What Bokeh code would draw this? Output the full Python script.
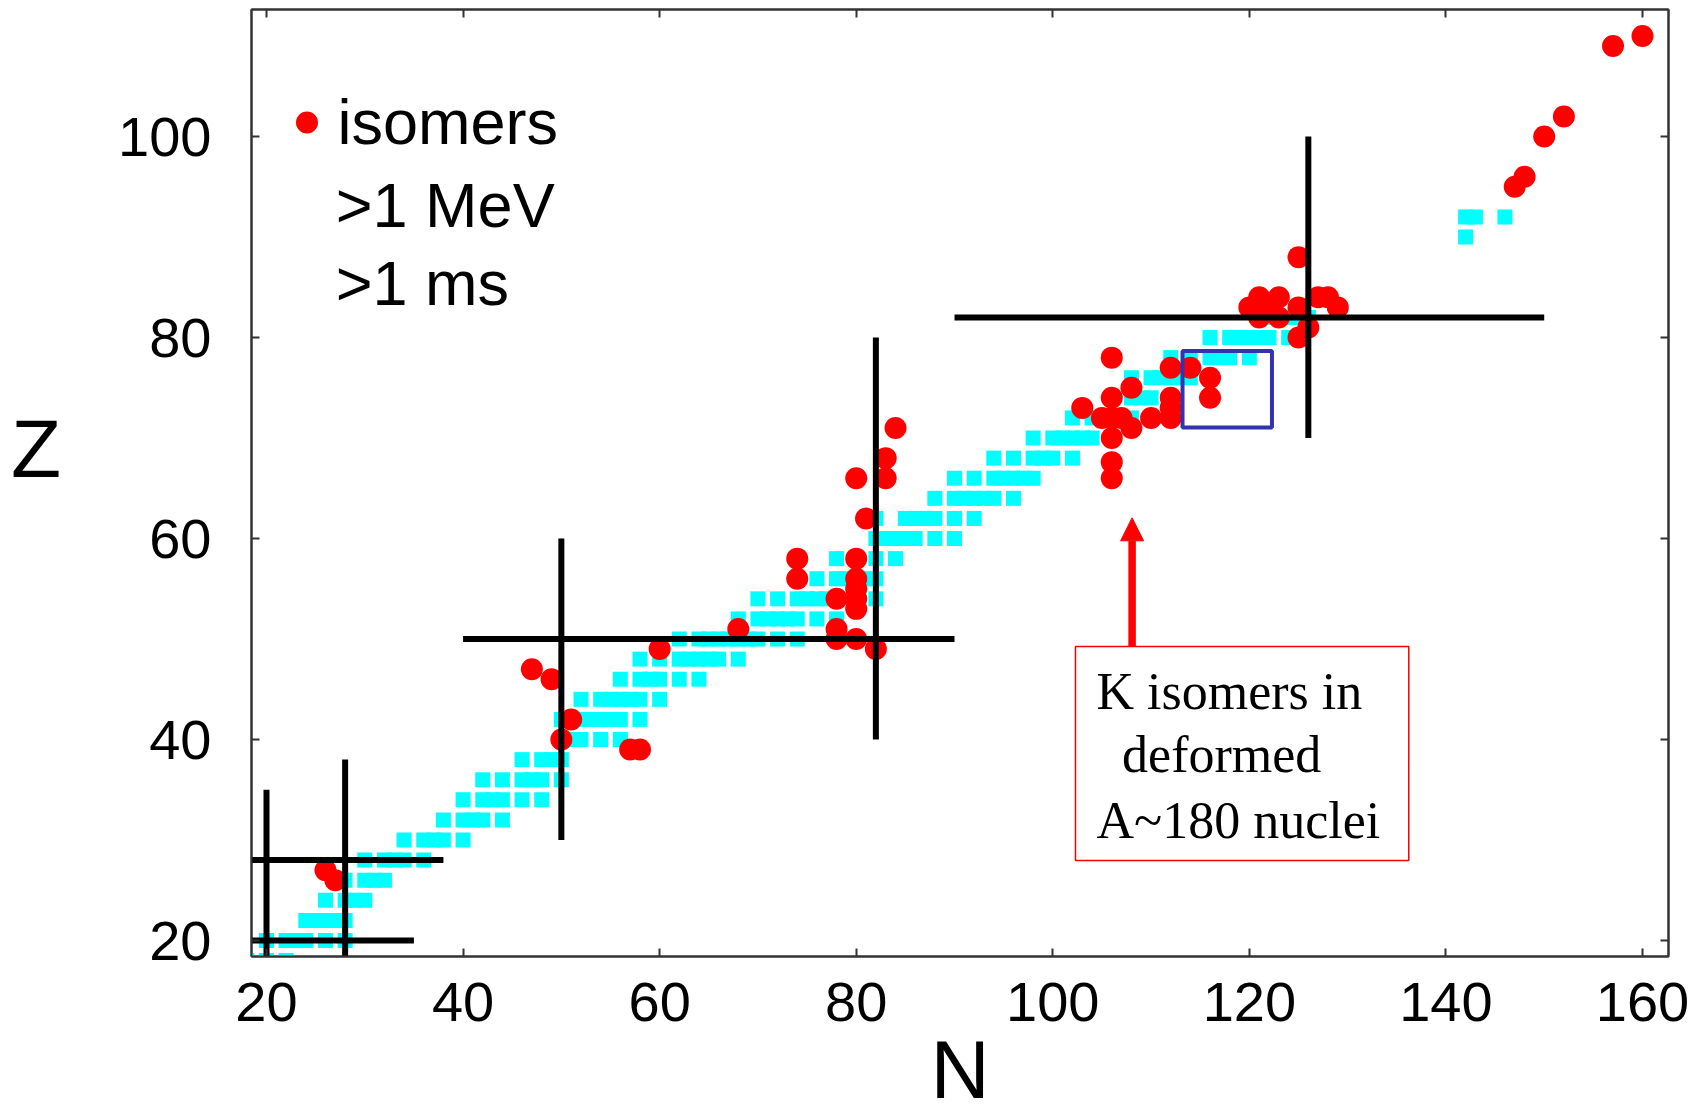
from bokeh.plotting import figure
from bokeh.models import (Range1d, FixedTicker, LinearAxis, Label, Arrow, NormalHead,
                          BoxAnnotation, Legend, LegendItem)
from bokeh.embed import file_html
from bokeh.resources import INLINE

# ---------------- data ----------------
# stable (primordial) even-Z nuclides: proton number and the neutron numbers of each row
even_Z = [18, 20, 22, 24, 26, 28, 30, 32, 34, 36, 38, 40, 42, 44, 46, 48, 50, 52, 54,
          56, 58, 60, 62, 64, 66, 68, 70, 72, 74, 76, 78, 80, 82, 90, 92]
stable_N = [
    [18, 20, 22],
    [20, 22, 23, 24, 26, 28],
    [24, 25, 26, 27, 28],
    [26, 28, 29, 30],
    [28, 30, 31, 32],
    [30, 32, 33, 34, 36],
    [34, 36, 37, 38, 40],
    [38, 40, 41, 42, 44],
    [40, 42, 43, 44, 46, 48],
    [42, 44, 46, 47, 48, 50],
    [46, 48, 49, 50],
    [50, 51, 52, 54, 56],
    [50, 52, 53, 54, 55, 56, 58],
    [52, 54, 55, 56, 57, 58, 60],
    [56, 58, 59, 60, 62, 64],
    [58, 60, 62, 63, 64, 65, 66, 68],
    [62, 64, 65, 66, 67, 68, 69, 70, 72, 74],
    [68, 70, 71, 72, 73, 74, 76, 78],
    [70, 72, 74, 75, 76, 77, 78, 80, 82],
    [74, 76, 78, 79, 80, 81, 82],
    [78, 80, 82, 84],
    [82, 83, 84, 85, 86, 88, 90],
    [82, 85, 86, 87, 88, 90, 92],
    [88, 90, 91, 92, 93, 94, 96],
    [90, 92, 94, 95, 96, 97, 98],
    [94, 96, 98, 99, 100, 102],
    [98, 100, 101, 102, 103, 104, 106],
    [102, 104, 105, 106, 107, 108],
    [106, 108, 109, 110, 112],
    [108, 110, 111, 112, 113, 114, 116],
    [112, 114, 116, 117, 118, 120],
    [116, 118, 119, 120, 121, 122, 124],
    [122, 124, 125, 126],
    [142],
    [142, 143, 146],
]

# isomers > 1 MeV, > 1 ms
iso_N = [26, 27, 47, 49, 51, 50, 57, 58, 60, 68,
         74, 74, 78, 78, 78, 80, 80, 80, 80, 80, 80, 82, 81, 80, 83, 83, 84,
         103, 105, 106, 107, 108, 110, 112, 112, 112, 106, 108, 106, 112, 114, 116, 116, 106, 106, 106,
         120, 121, 121, 122, 123, 123, 125, 126, 125, 127, 128, 129, 125,
         147, 148, 150, 152, 157, 160]
iso_Z = [27, 26, 47, 46, 42, 40, 39, 39, 49, 51,
         58, 56, 54, 51, 50, 58, 56, 55, 54, 53, 50, 49, 62, 66, 66, 68, 71,
         73, 72, 72, 72, 71, 72, 72, 73, 74, 74, 75, 78, 77, 77, 76, 74, 70, 67.6, 66,
         83, 82, 84, 83, 84, 82, 83, 81, 80, 84, 84, 83, 88,
         95, 96, 100, 102, 109, 110]

# magic-number lines
magic_v_N = [20, 28, 50, 82, 126]
magic_v_Zlo = [15, 15, 30, 40, 70]
magic_v_Zhi = [35, 38, 60, 80, 100]
magic_h_Z = [20, 28, 50, 82]
magic_h_Nlo = [15, 15, 40, 90]
magic_h_Nhi = [35, 38, 90, 150]

x_ticks = [20, 40, 60, 80, 100, 120, 140, 160]
y_ticks = [20, 40, 60, 80, 100]

# K-isomer region box and annotation
kbox_N = [113.2, 122.3]
kbox_Z = [71.05, 78.66]
note_lines = ["K isomers in", "deformed", "A~180 nuclei"]
legend_lines = [">1 MeV", ">1 ms"]

# ---------------- figure ----------------
X0, X1 = 18.474, 162.645
Y0, Y1 = 18.41, 112.64

p = figure(width=1702, height=1110, x_range=Range1d(X0, X1), y_range=Range1d(Y0, Y1),
           output_backend="svg", toolbar_location=None,
           min_border_left=251, min_border_right=34, min_border_top=9, min_border_bottom=154)
p.grid.visible = False
p.background_fill_color = "white"
p.border_fill_color = "white"
p.outline_line_color = "#333333"
p.outline_line_width = 2

axis_color = "#333333"
for ax in [p.xaxis[0], p.yaxis[0]]:
    ax.major_tick_in = 8
    ax.major_tick_out = 0
    ax.minor_tick_line_color = None
    ax.axis_line_color = axis_color
    ax.axis_line_width = 2
    ax.major_tick_line_color = axis_color
    ax.major_tick_line_width = 2
    ax.major_label_text_font = "Liberation Sans"
    ax.major_label_text_font_size = "56px"
    ax.major_label_text_color = "#000000"
    ax.axis_label_text_font = "Liberation Sans"
    ax.axis_label_text_font_size = "82px"
    ax.axis_label_text_font_style = "normal"
    ax.axis_label_text_color = "#000000"
p.xaxis[0].ticker = FixedTicker(ticks=x_ticks)
p.yaxis[0].ticker = FixedTicker(ticks=y_ticks)
p.xaxis[0].major_label_standoff = 26
p.yaxis[0].major_label_standoff = 40
# "N": the empty second line with a negative line height shrinks the label's box
p.xaxis[0].axis_label = "N\n"
p.xaxis[0].axis_label_text_line_height = -0.4
p.xaxis[0].axis_label_standoff = 0
# "Z": the empty second line lifts the label above the axis middle
p.yaxis[0].axis_label = "Z\n"
p.yaxis[0].axis_label_text_line_height = 0.75
p.yaxis[0].axis_label_orientation = "horizontal"
p.yaxis[0].axis_label_standoff = 54

for loc, tk in [("above", x_ticks), ("right", y_ticks)]:
    ax = LinearAxis(ticker=FixedTicker(ticks=tk))
    ax.major_label_text_font_size = "0px"
    ax.major_label_text_color = None
    ax.major_label_standoff = 0
    ax.major_tick_in = 8
    ax.major_tick_out = 0
    ax.minor_tick_line_color = None
    ax.axis_line_color = axis_color
    ax.axis_line_width = 2
    ax.major_tick_line_color = axis_color
    ax.major_tick_line_width = 2
    p.add_layout(ax, loc)

# stable nuclei
sq_N = [n for row in stable_N for n in row]
sq_Z = [z for z, row in zip(even_Z, stable_N) for _ in row]
p.rect(sq_N, sq_Z, width=15, height=15, width_units="screen", height_units="screen",
       fill_color="#00ffff", line_color=None)

# isomers
red = p.scatter(iso_N, iso_Z, marker="circle", size=22, fill_color="#ff0000", line_color=None)

# magic lines
p.segment(x0=magic_v_N, y0=magic_v_Zlo, x1=magic_v_N, y1=magic_v_Zhi,
          line_color="black", line_width=6)
p.segment(x0=magic_h_Nlo, y0=magic_h_Z, x1=magic_h_Nhi, y1=magic_h_Z,
          line_color="black", line_width=6)

# K-isomer box (blue)
p.add_layout(BoxAnnotation(left=kbox_N[0], right=kbox_N[1], bottom=kbox_Z[0], top=kbox_Z[1],
                           fill_alpha=0, line_color="#3333b0", line_width=4, line_alpha=1))

# note box + arrow
p.add_layout(BoxAnnotation(left=102.31, right=136.22, bottom=27.96, top=49.25,
                           fill_color="white", fill_alpha=1, line_color="#ff0000",
                           line_width=1.5, line_alpha=1))
p.add_layout(Arrow(end=NormalHead(size=23, fill_color="#ff0000", line_color="#ff0000", line_width=1),
                   x_start=108.07, y_start=49.25, x_end=108.07, y_end=62.06,
                   line_color="#ff0000", line_width=7.5))
for txt, xx, yy in zip(note_lines, [104.45, 107.05, 104.45], [44.8, 38.5, 31.95]):
    p.add_layout(Label(x=xx, y=yy, text=txt, text_font="Liberation Serif", text_font_size="52px",
                       text_color="#000000", text_baseline="alphabetic", text_align="left"))

# legend
legend = Legend(items=[LegendItem(label="isomers", renderers=[red])], location=(27.5, 796),
                glyph_width=55, glyph_height=76, label_standoff=4, padding=0, margin=0, spacing=0,
                border_line_color=None, background_fill_alpha=0,
                label_text_font="Liberation Sans", label_text_font_size="63px",
                label_text_color="#000000")
p.add_layout(legend)
for txt, yy in zip(legend_lines, [93.22, 85.39]):
    p.add_layout(Label(x=27.05, y=yy, text=txt, text_font="Liberation Sans", text_font_size="63px",
                       text_color="#000000", text_baseline="alphabetic", text_align="left"))

open("out.html", "w").write(file_html(p, INLINE))
